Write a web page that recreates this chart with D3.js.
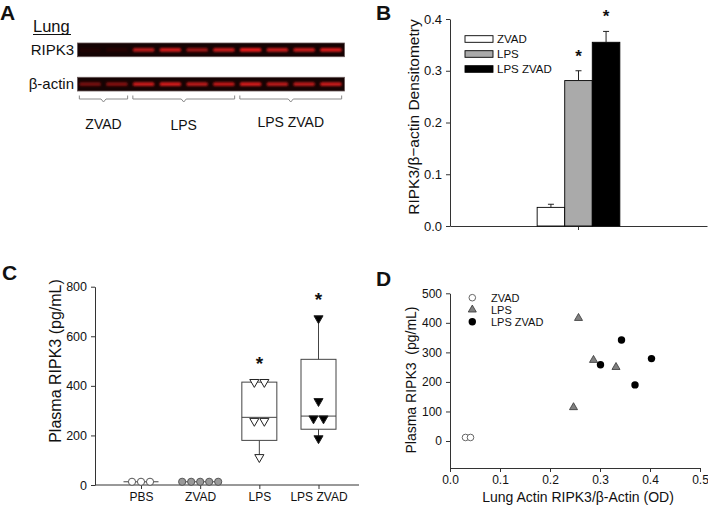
<!DOCTYPE html>
<html><head><meta charset="utf-8">
<script src="https://cdn.jsdelivr.net/npm/d3@7"></script>
<style>
body{margin:0;background:#fff}
svg{display:block}
text{font-family:"Liberation Sans",Arial,sans-serif;fill:#111}
</style>
</head><body>
<svg id="c" width="708" height="508"></svg>
<script>
// ---------- DATA ----------
// Panel A (western blot band intensities, 0..1)
const blotRows = ["RIPK3", "β-actin"];
const laneGroup = ["ZVAD","ZVAD","LPS","LPS","LPS","LPS","LPS ZVAD","LPS ZVAD","LPS ZVAD","LPS ZVAD"];
const ripk3Band = [0.03, 0.12, 0.8, 0.88, 0.7, 0.85, 0.95, 0.85, 0.85, 0.9];
const actinBand = [0.55, 0.6, 0.85, 0.88, 0.8, 0.82, 0.88, 0.8, 0.8, 0.85];
const blotGroups = ["ZVAD", "LPS", "LPS ZVAD"];

// Panel B
const bSeries = ["ZVAD", "LPS", "LPS ZVAD"];
const bMean = [0.036, 0.281, 0.355];
const bErr = [0.006, 0.019, 0.021];
const bSig = [false, true, true];
const bTicks = [0, 0.1, 0.2, 0.3, 0.4];

// Panel C
const cGroups = ["PBS", "ZVAD", "LPS", "LPS ZVAD"];
const cPoints = [[13,13,13],[13,13,13,13,13],[415,415,258,258,112],[672,338,268,268,188]];
const cQ1 = [13, 13, 180, 225];
const cMedian = [13, 13, 273, 278];
const cQ3 = [13, 13, 415, 507];
const cLow = [13, 13, 112, 188];
const cHigh = [13, 13, 415, 672];
const cSig = [false, false, true, true];
const cTicks = [0, 200, 400, 600, 800];

// Panel D
const dSeries = ["ZVAD", "LPS", "LPS ZVAD"];
const dZvadX = [0.031, 0.041];
const dZvadY = [12, 12];
const dLpsX = [0.257, 0.287, 0.332, 0.247];
const dLpsY = [416, 274, 250, 114];
const dLpsZvadX = [0.301, 0.343, 0.403, 0.370];
const dLpsZvadY = [258, 342, 279, 190];
const dXTicks = [0, 0.1, 0.2, 0.3, 0.4, 0.5];
const dYTicks = [0, 100, 200, 300, 400, 500];

// ---------- DRAW ----------
const svg = d3.select("#c");
const defs = svg.append("defs");
defs.append("filter").attr("id","blur").attr("x","-30%").attr("y","-200%").attr("width","160%").attr("height","500%")
  .append("feGaussianBlur").attr("stdDeviation", 0.9);

function styleAxis(g, fs){
  g.selectAll("path.domain").attr("stroke","#333");
  g.selectAll(".tick line").attr("stroke","#333");
  g.selectAll(".tick text").attr("font-size",fs).attr("fill","#111")
    .attr("font-family",'"Liberation Sans",Arial,sans-serif');
}
function letter(x,y,t){
  svg.append("text").attr("x",x).attr("y",y).attr("font-size",21).attr("font-weight","bold").text(t);
}

// ===== Panel A =====
letter(0,19.5,"A");
svg.append("text").attr("x",33).attr("y",31.5).attr("font-size",16.5).text("Lung");
svg.append("line").attr("x1",33).attr("x2",71).attr("y1",34.5).attr("y2",34.5).attr("stroke","#111").attr("stroke-width",1.2);

const laneX = d3.scaleBand().domain(d3.range(laneGroup.length)).range([77,344]).paddingInner(0.12).paddingOuter(0.05);
const blotY = d3.scaleBand().domain(blotRows).range([43,91]).paddingInner(0.6);
const bandVals = [ripk3Band, actinBand];
const redScale = d3.scaleLinear().domain([0,1]).range(["#2a0606","#ff2020"]);
blotRows.forEach((r,ri)=>{
  const y0 = blotY(r), h = blotY.bandwidth();
  svg.append("rect").attr("x",77.5).attr("y",y0).attr("width",267).attr("height",h)
    .attr("fill","#150303").attr("stroke","#6a5a5a").attr("stroke-width",0.8);
  svg.append("text").attr("x",74).attr("y",y0+h/2+5.3).attr("font-size",15).attr("text-anchor","end").text(r);
  const gb = svg.append("g").attr("filter","url(#blur)");
  gb.selectAll("rect").data(bandVals[ri]).join("rect")
    .attr("x",(d,i)=>laneX(i)+1).attr("width",laneX.bandwidth()-2)
    .attr("y",y0+h/2-1.9).attr("height",3.8).attr("rx",1.5)
    .attr("fill",d=>redScale(d)).attr("opacity",d=>0.35+0.65*d);
});
// brackets + labels
const labelBase = [129,130,127];
blotGroups.forEach((g,gi)=>{
  const idx = laneGroup.map((d,i)=>d===g?i:-1).filter(i=>i>=0);
  const x0 = laneX(idx[0])+1, x1 = laneX(idx[idx.length-1])+laneX.bandwidth()-1;
  const xc = (x0+x1)/2;
  svg.append("path").attr("d",`M${x0},95.5V99H${xc-2.5}L${xc},102L${xc+2.5},99H${x1}V95.5`)
    .attr("fill","none").attr("stroke","#8a8a8a").attr("stroke-width",1);
  svg.append("text").attr("x",xc).attr("y",labelBase[gi]).attr("font-size",14).attr("text-anchor","middle").text(g);
});

// ===== Panel B =====
letter(376,19.5,"B");
const bx0 = d3.scaleBand().domain(["g"]).range([450,707]).paddingInner(0).paddingOuter(1.054);
const bx1 = d3.scaleBand().domain(bSeries).range([0,bx0.bandwidth()]);
const by = d3.scaleLinear().domain([0,0.4]).range([226,19]);
const bColors = ["#ffffff","#aaaaaa","#000000"];
const gBy = svg.append("g").attr("transform","translate(450,0)")
  .call(d3.axisLeft(by).tickValues(bTicks).tickFormat(d3.format(".1f")).tickSize(4).tickSizeOuter(0).tickPadding(4));
styleAxis(gBy,13);
const gBx = svg.append("g").attr("transform","translate(0,226)")
  .call(d3.axisBottom(bx0).tickSize(4).tickSizeOuter(0).tickFormat(""));
styleAxis(gBx,12);
bSeries.forEach((s,i)=>{
  const x = bx0("g")+bx1(s), w = bx1.bandwidth(), xc = x+w/2;
  svg.append("rect").attr("x",x).attr("y",by(bMean[i])).attr("width",w).attr("height",by(0)-by(bMean[i]))
    .attr("fill",bColors[i]).attr("stroke","#000").attr("stroke-width",0.9);
  const yt = by(bMean[i]+bErr[i]);
  svg.append("line").attr("x1",xc).attr("x2",xc).attr("y1",by(bMean[i])).attr("y2",yt).attr("stroke","#222");
  svg.append("line").attr("x1",xc-3).attr("x2",xc+3).attr("y1",yt).attr("y2",yt).attr("stroke","#222");
  if(bSig[i]) svg.append("text").attr("x",xc).attr("y",yt-19+10).attr("font-size",17).attr("font-weight","bold")
    .attr("text-anchor","middle").text("*");
  // legend
  const ly = 39 + i*15;
  svg.append("rect").attr("x",465).attr("y",ly-3.3).attr("width",28).attr("height",6.6)
    .attr("fill",bColors[i]).attr("stroke","#000").attr("stroke-width",0.9);
  svg.append("text").attr("x",497).attr("y",ly+4.2).attr("font-size",11.5).text(s);
});
svg.append("text").attr("transform","translate(419,117) rotate(-90)").attr("text-anchor","middle")
  .attr("font-size",15.5).text("RIPK3/β−actin Densitometry");

// ===== Panel C =====
letter(2,280,"C");
const cx = d3.scalePoint().domain(cGroups).range([141,318.5]);
const cy = d3.scaleLinear().domain([0,800]).range([485,286.7]);
const gCy = svg.append("g").attr("transform","translate(95,0)")
  .call(d3.axisLeft(cy).tickValues(cTicks).tickSize(4).tickSizeOuter(0).tickPadding(4));
styleAxis(gCy,12.5);
const gCx = svg.append("g").attr("transform","translate(0,485)")
  .call(d3.axisBottom(cx).tickSize(4).tickSizeOuter(0).tickPadding(3));
gCx.select("path.domain").attr("d","M95,0H359");
styleAxis(gCx,12);
svg.append("text").attr("transform","translate(61,361) rotate(-90)").attr("text-anchor","middle")
  .attr("font-size",16).text("Plasma RIPK3 (pg/mL)");
const boxW = 35;
cGroups.forEach((g,i)=>{
  const xc = cx(g);
  if(cQ3[i] > cQ1[i]){
    svg.append("rect").attr("x",xc-boxW/2).attr("y",cy(cQ3[i])).attr("width",boxW).attr("height",cy(cQ1[i])-cy(cQ3[i]))
      .attr("fill","none").attr("stroke","#444").attr("stroke-width",1);
  }
  svg.append("line").attr("x1",xc-boxW/2).attr("x2",xc+boxW/2).attr("y1",cy(cMedian[i])).attr("y2",cy(cMedian[i]))
    .attr("stroke","#444").attr("stroke-width",1);
  if(cHigh[i] > cQ3[i]) svg.append("line").attr("x1",xc).attr("x2",xc).attr("y1",cy(cQ3[i])).attr("y2",cy(cHigh[i])).attr("stroke","#444");
  if(cLow[i] < cQ1[i]) svg.append("line").attr("x1",xc).attr("x2",xc).attr("y1",cy(cQ1[i])).attr("y2",cy(cLow[i])).attr("stroke","#444");
  // points: spread duplicates horizontally
  const pts = cPoints[i];
  const counts = {}, seen = {};
  pts.forEach(v=>counts[v]=(counts[v]||0)+1);
  const isTri = i>=2;
  const sp = isTri ? 10 : 9;
  pts.forEach(v=>{
    const k = seen[v]||0; seen[v]=k+1;
    const off = (k-(counts[v]-1)/2)*sp;
    const x = xc+off, y = cy(v);
    if(!isTri){
      svg.append("circle").attr("cx",x).attr("cy",y).attr("r",3.6)
        .attr("fill",i===0?"#fff":"#999").attr("stroke","#555").attr("stroke-width",1);
    } else {
      svg.append("path").attr("d",d3.symbol().type(d3.symbolTriangle).size(36)())
        .attr("transform",`translate(${x},${y}) rotate(180)`)
        .attr("fill",i===2?"#fff":"#000").attr("stroke","#222").attr("stroke-width",1);
    }
  });
  if(cSig[i]) svg.append("text").attr("x",xc).attr("y",cy(cHigh[i])-23+11).attr("font-size",19)
    .attr("font-weight","bold").attr("text-anchor","middle").text("*");
});

// ===== Panel D =====
letter(376,286,"D");
const dx = d3.scaleLinear().domain([0,0.5]).range([450,700]);
const dy = d3.scaleLinear().domain([-90,500]).range([467.6,293.3]);
const gDy = svg.append("g").attr("transform","translate(450,0)")
  .call(d3.axisLeft(dy).tickValues(dYTicks).tickSize(4).tickSizeOuter(0).tickPadding(4));
styleAxis(gDy,12);
const gDx = svg.append("g").attr("transform","translate(0,468)")
  .call(d3.axisBottom(dx).tickValues(dXTicks).tickFormat(d3.format(".1f")).tickSize(4).tickSizeOuter(0).tickPadding(3));
styleAxis(gDx,12);
svg.append("text").attr("transform","translate(416,380) rotate(-90)").attr("text-anchor","middle")
  .attr("font-size",14).style("white-space","pre").text("Plasma RIPK3  (pg/mL)");
svg.append("text").attr("x",578).attr("y",502).attr("text-anchor","middle")
  .attr("font-size",14).text("Lung Actin RIPK3/β-Actin (OD)");

function dMarker(sel, type, x, y){
  if(type===0) sel.append("circle").attr("cx",x).attr("cy",y).attr("r",3.3).attr("fill","#fff").attr("stroke","#666").attr("stroke-width",1);
  else if(type===1) sel.append("path").attr("d",d3.symbol().type(d3.symbolTriangle).size(28)())
    .attr("transform",`translate(${x},${y})`).attr("fill","#808080").attr("stroke","#333").attr("stroke-width",0.8);
  else sel.append("circle").attr("cx",x).attr("cy",y).attr("r",3.7).attr("fill","#000");
}
dZvadX.forEach((v,i)=>dMarker(svg,0,dx(v),dy(dZvadY[i])));
dLpsX.forEach((v,i)=>dMarker(svg,1,dx(v),dy(dLpsY[i])));
dLpsZvadX.forEach((v,i)=>dMarker(svg,2,dx(v),dy(dLpsZvadY[i])));
dSeries.forEach((s,i)=>{
  const ly = 297.7 + i*12;
  dMarker(svg,i,472.3,ly);
  svg.append("text").attr("x",491).attr("y",ly+4).attr("font-size",11).text(s);
});
</script>
</body></html>
